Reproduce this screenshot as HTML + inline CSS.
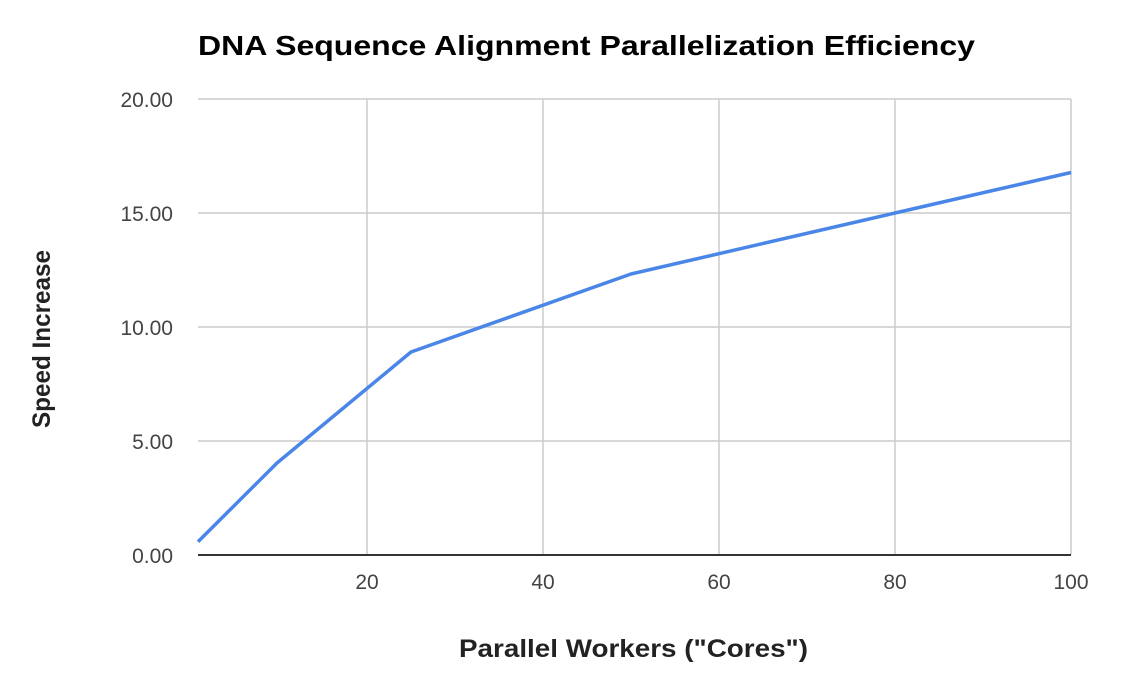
<!DOCTYPE html>
<html><head><meta charset="utf-8"><style>
html,body{margin:0;padding:0;background:#fff;}
</style></head><body>
<svg width="1126" height="682" xmlns="http://www.w3.org/2000/svg" font-family="Liberation Sans, Arial, sans-serif">
<rect width="1126" height="682" fill="#fff"/>
<text x="198" y="55" font-size="28" font-weight="bold" fill="#000" textLength="777" lengthAdjust="spacingAndGlyphs">DNA Sequence Alignment Parallelization Efficiency</text>
<g stroke="#cccccc" stroke-width="1.5">
<line x1="198" y1="99" x2="1071" y2="99"/>
<line x1="198" y1="213" x2="1071" y2="213"/>
<line x1="198" y1="327" x2="1071" y2="327"/>
<line x1="198" y1="441" x2="1071" y2="441"/>
<line x1="367" y1="99" x2="367" y2="555"/>
<line x1="543" y1="99" x2="543" y2="555"/>
<line x1="719" y1="99" x2="719" y2="555"/>
<line x1="895" y1="99" x2="895" y2="555"/>
<line x1="1071" y1="99" x2="1071" y2="555"/>
</g>
<line x1="198" y1="555" x2="1071" y2="555" stroke="#333" stroke-width="2"/>
<polyline points="198,541.7 277,463 411,352 631,274 895,213 1071,172.5" fill="none" stroke="#4a86e8" stroke-width="3.5" stroke-linejoin="round"/>
<g font-size="21" fill="#444" text-anchor="end">
<text x="173" y="107">20.00</text>
<text x="173" y="221">15.00</text>
<text x="173" y="335">10.00</text>
<text x="173" y="449">5.00</text>
<text x="173" y="563">0.00</text>
</g>
<g font-size="21" fill="#444" text-anchor="middle">
<text x="367" y="589">20</text>
<text x="543" y="589">40</text>
<text x="719" y="589">60</text>
<text x="895" y="589">80</text>
<text x="1071" y="589">100</text>
</g>
<text x="459" y="657" font-size="25" font-weight="bold" fill="#222" textLength="349" lengthAdjust="spacingAndGlyphs">Parallel Workers ("Cores")</text>
<text x="0" y="0" font-size="25" font-weight="bold" fill="#222" textLength="178" lengthAdjust="spacingAndGlyphs" transform="translate(50,428) rotate(-90)">Speed Increase</text>
</svg>
</body></html>
